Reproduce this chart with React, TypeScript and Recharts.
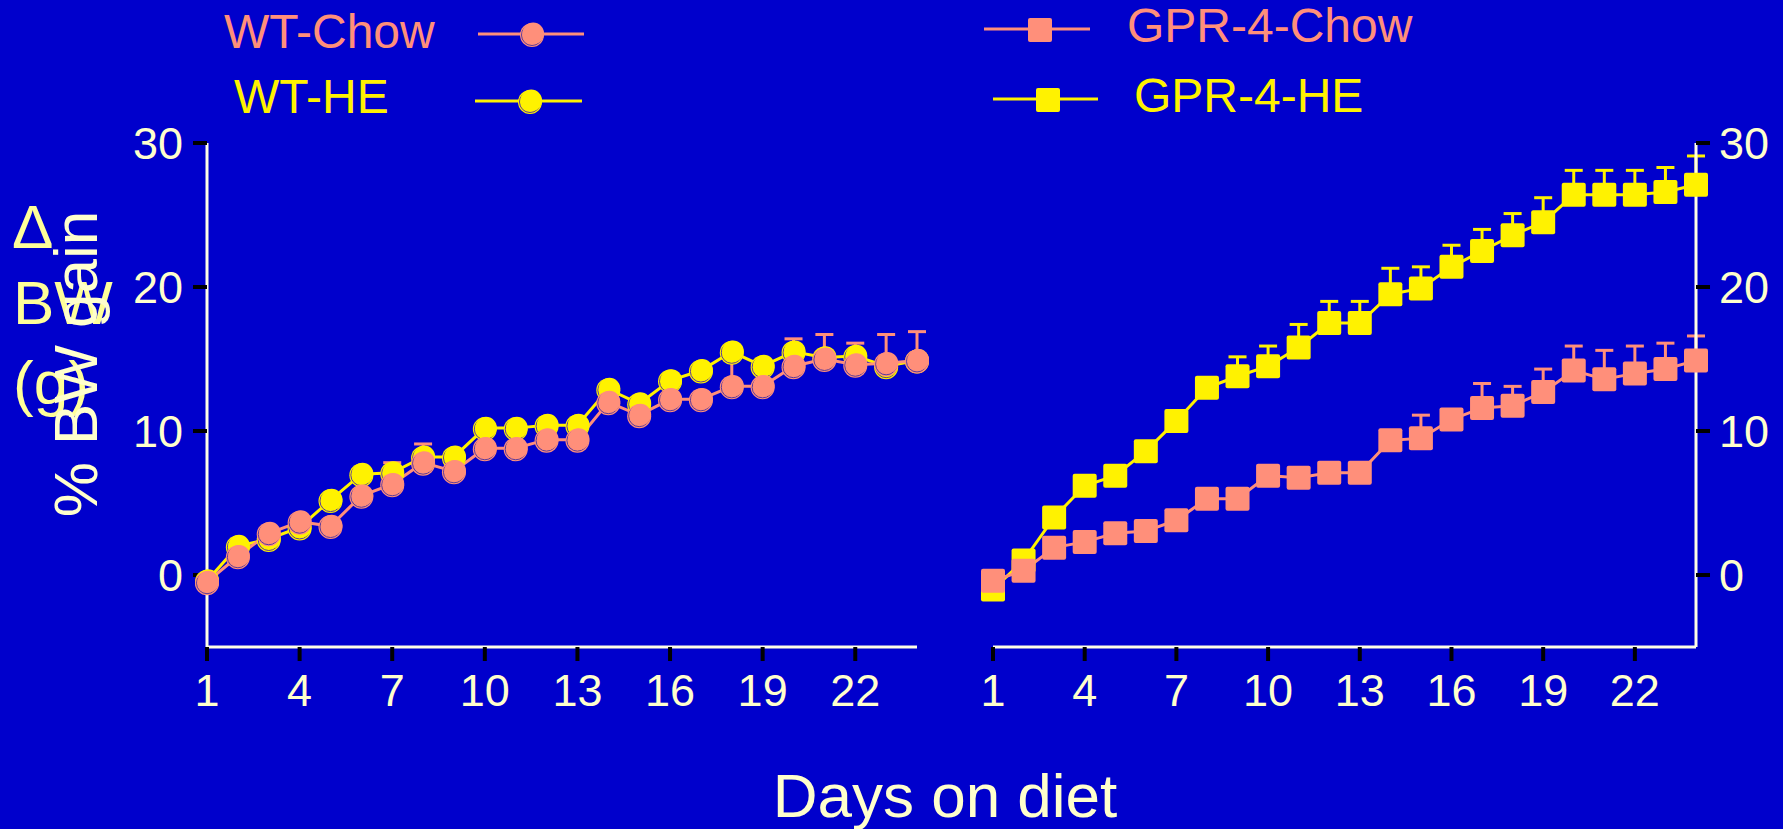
import { LineChart, Line, XAxis, YAxis, ErrorBar } from "recharts";

// days on diet
const days = [1, 2, 3, 4, 5, 6, 7, 8, 9, 10, 11, 12, 13, 14, 15, 16, 17, 18, 19, 20, 21, 22, 23, 24];

// left panel (% BW gain)
const wtChow = [-0.5, 1.3, 2.9, 3.7, 3.4, 5.5, 6.3, 7.8, 7.2, 8.8, 8.8, 9.4, 9.4, 12.0, 11.1, 12.2, 12.2, 13.1, 13.1, 14.5, 15.0, 14.6, 14.7, 14.9];
const wtHe = [-0.4, 2.0, 2.5, 3.3, 5.2, 7.0, 7.1, 8.2, 8.2, 10.2, 10.2, 10.4, 10.4, 12.9, 11.9, 13.5, 14.2, 15.5, 14.5, 15.5, 15.1, 15.2, 14.5, 14.9];
const wtChowErr = [0, 0, 0, 0, 0, 0, 1.5, 1.3, 0, 0, 0, 0, 0, 0, 0, 0, 0, 2.0, 0, 1.9, 1.7, 1.5, 2.0, 2.0];

// right panel
const gprChow = [-0.4, 0.3, 1.9, 2.3, 2.9, 3.05, 3.8, 5.3, 5.3, 6.9, 6.75, 7.1, 7.1, 9.35, 9.5, 10.8, 11.6, 11.75, 12.7, 14.2, 13.6, 14.0, 14.3, 14.9];
const gprHe = [-1.0, 1.0, 4.0, 6.2, 6.9, 8.6, 10.7, 13.0, 13.8, 14.5, 15.8, 17.5, 17.5, 19.5, 19.9, 21.4, 22.5, 23.6, 24.5, 26.4, 26.4, 26.4, 26.6, 27.1];
const gprChowErr = [0, 0, 0, 0, 0, 0, 0, 0, 0, 0, 0, 0, 0, 0, 1.6, 0, 1.7, 1.35, 1.6, 1.7, 2.0, 1.9, 1.8, 1.7];
const gprHeErr = [0, 0, 0, 0, 0, 0, 0, 0, 1.35, 1.4, 1.6, 1.5, 1.5, 1.8, 1.5, 1.5, 1.5, 1.5, 1.7, 1.7, 1.7, 1.7, 1.7, 2.0];

const xTicks = [1, 4, 7, 10, 13, 16, 19, 22];
const yTicks = [0, 10, 20, 30];

const BG = "#0000CC";
const SALMON = "#FF8F7A";
const YELLOW = "#FFF200";
const CREAM = "#FFFFCC";
const FONT = "'Liberation Sans', Arial, sans-serif";

const leftData = days.map((d, i) => ({
  day: d,
  wtChow: wtChow[i],
  wtHe: wtHe[i],
  wtChowErr: [0, wtChowErr[i]],
}));

const rightData = days.map((d, i) => ({
  day: d,
  gprChow: gprChow[i],
  gprHe: gprHe[i],
  gprChowErr: [0, gprChowErr[i]],
  gprHeErr: [0, gprHeErr[i]],
}));

function CircleDot(props: any) {
  const { cx, cy, fill } = props;
  if (cx == null || cy == null) return null;
  return (
    <g>
      <circle cx={cx} cy={cy + 1} r={12} fill={fill} />
      <circle cx={cx} cy={cy + 1} r={10.5} fill="none" stroke="#5b3a9a" strokeWidth={1} />
      <circle cx={cx + 1.2} cy={cy - 0.6} r={10.8} fill={fill} />
    </g>
  );
}

function SquareDot(props: any) {
  const { cx, cy, fill } = props;
  if (cx == null || cy == null) return null;
  return <rect x={cx - 12} y={cy - 12} width={24} height={24} rx={2} fill={fill} />;
}

const axisLine = { stroke: "#FFFFE6", strokeWidth: 3 };
const tickLine = { stroke: "#000000", strokeWidth: 4 };
const tickStyle = { fill: CREAM, fontSize: 45, fontFamily: FONT };

function Panel({ data, side, children }: any) {
  const left = side === "left";
  return (
    <LineChart
      width={left ? 960 : 823}
      height={829}
      data={data}
      margin={left ? { top: 143, right: 43, bottom: 122, left: 127 } : { top: 143, right: 7, bottom: 122, left: 33 }}
    >
      <XAxis
        dataKey="day"
        type="number"
        domain={[1, 24]}
        ticks={xTicks}
        interval={0}
        height={60}
        axisLine={axisLine}
        tickLine={tickLine}
        tickSize={14}
        tickMargin={13}
        tick={tickStyle}
      />
      <YAxis
        orientation={left ? "left" : "right"}
        type="number"
        domain={[-5, 30]}
        ticks={yTicks}
        interval={0}
        width={80}
        axisLine={axisLine}
        tickLine={tickLine}
        tickSize={14}
        tickMargin={left ? 10 : 9}
        tick={tickStyle}
      />
      {children}
    </LineChart>
  );
}

export default function App() {
  return (
    <div style={{ position: "absolute", left: 0, top: 0, width: 1783, height: 829, background: BG, overflow: "hidden", fontFamily: FONT }}>
      <div style={{ position: "absolute", left: 0, top: 0 }}>
        <Panel data={leftData} side="left">
          <Line
            dataKey="wtHe"
            type="linear"
            stroke={YELLOW}
            strokeWidth={3}
            dot={(p: any) => <CircleDot key={`he-${p.index}`} {...p} fill={YELLOW} />}
            isAnimationActive={false}
          />
          <Line
            dataKey="wtChow"
            type="linear"
            stroke={SALMON}
            strokeWidth={3}
            dot={(p: any) => <CircleDot key={`ch-${p.index}`} {...p} fill={SALMON} />}
            isAnimationActive={false}
          >
            <ErrorBar dataKey="wtChowErr" direction="y" width={9} stroke={SALMON} strokeWidth={3} isAnimationActive={false} />
          </Line>
        </Panel>
      </div>
      <div style={{ position: "absolute", left: 960, top: 0 }}>
        <Panel data={rightData} side="right">
          <Line
            dataKey="gprHe"
            type="linear"
            stroke={YELLOW}
            strokeWidth={3}
            dot={(p: any) => <SquareDot key={`ghe-${p.index}`} {...p} fill={YELLOW} />}
            isAnimationActive={false}
          >
            <ErrorBar dataKey="gprHeErr" direction="y" width={9} stroke={YELLOW} strokeWidth={3} isAnimationActive={false} />
          </Line>
          <Line
            dataKey="gprChow"
            type="linear"
            stroke={SALMON}
            strokeWidth={3}
            dot={(p: any) => <SquareDot key={`gch-${p.index}`} {...p} fill={SALMON} />}
            isAnimationActive={false}
          >
            <ErrorBar dataKey="gprChowErr" direction="y" width={9} stroke={SALMON} strokeWidth={3} isAnimationActive={false} />
          </Line>
        </Panel>
      </div>

      <svg width={1783} height={829} style={{ position: "absolute", left: 0, top: 0, pointerEvents: "none" }} fontFamily={FONT}>
        {/* legend */}
        <text x={224} y={48} fontSize={48} fill={SALMON}>WT-Chow</text>
        <line x1={478} y1={34} x2={584} y2={34} stroke={SALMON} strokeWidth={3} />
        <CircleDot cx={532} cy={34} fill={SALMON} />

        <text x={234} y={113} fontSize={48} fill={YELLOW}>WT-HE</text>
        <line x1={475} y1={101} x2={582} y2={101} stroke={YELLOW} strokeWidth={3} />
        <CircleDot cx={530} cy={101} fill={YELLOW} />

        <line x1={984} y1={29} x2={1090} y2={29} stroke={SALMON} strokeWidth={3} />
        <SquareDot cx={1040} cy={30} fill={SALMON} />
        <text x={1127} y={42} fontSize={48} fill={SALMON}>GPR-4-Chow</text>

        <line x1={993} y1={99} x2={1098} y2={99} stroke={YELLOW} strokeWidth={3} />
        <SquareDot cx={1048} cy={100} fill={YELLOW} />
        <text x={1134} y={112} fontSize={48} fill={YELLOW}>GPR-4-HE</text>

        {/* y axis titles (two overlapping in the original) */}
        <text x={12} y={248} fontSize={62} fill="#FFFF99">Δ</text>
        <text x={13} y={324} fontSize={62} fill="#FFFF99">BW</text>
        <text x={13} y={404} fontSize={62} fill="#FFFF99">(g)</text>
        <text transform="translate(97,364) rotate(-90)" textAnchor="middle" fontSize={62} fill={CREAM}>% BW gain</text>

        {/* x axis title */}
        <text x={945} y={817} textAnchor="middle" fontSize={62} fill={CREAM}>Days on diet</text>
      </svg>
    </div>
  );
}
